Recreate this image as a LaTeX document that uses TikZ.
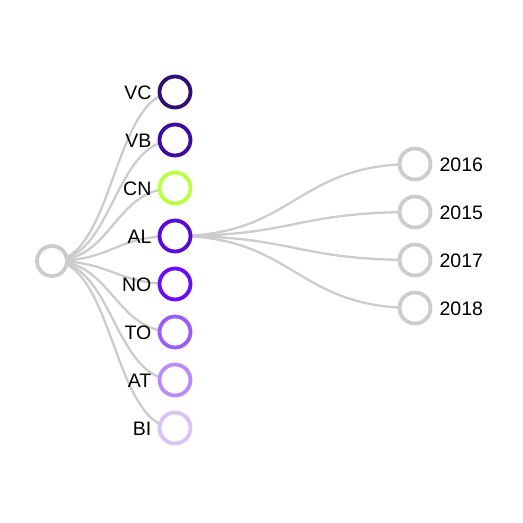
\documentclass[tikz,border=0pt]{standalone}
\usepackage{fontspec}
\setmainfont{Liberation Sans}
\definecolor{linkgray}{HTML}{CCCCCC}
\definecolor{cVC}{HTML}{320E6E}
\definecolor{cVB}{HTML}{3E0A9E}
\definecolor{cCN}{HTML}{BBFF44}
\definecolor{cAL}{HTML}{5A0AD4}
\definecolor{cNO}{HTML}{6A0CF5}
\definecolor{cTO}{HTML}{9B5CF7}
\definecolor{cAT}{HTML}{B98CF8}
\definecolor{cBI}{HTML}{D9C2FA}
\begin{document}
\begin{tikzpicture}[x=1pt,y=-1pt,
  treenode/.style={circle,draw,fill=white,line width=3.8pt,minimum size=31pt,inner sep=0pt},
  treelink/.style={draw=linkgray,line width=2.3pt},
  lbl/.style={font=\fontsize{19.5}{22}\selectfont,inner sep=0pt}]
\useasboundingbox (0,0) rectangle (523,523);
\coordinate (r) at (52,261);
% first level
\foreach \n/\y in {VC/92,VB/140,CN/188,AL/236,NO/284,TO/332,AT/380,BI/428}{
  \coordinate (p\n) at (175,\y);
  \draw[treelink] (r) .. controls (113.5,261) and (113.5,\y) .. (p\n);
}
\foreach \n/\y in {2016/164,2015/212,2017/260,2018/308}{
  \coordinate (q\n) at (415,\y);
  \draw[treelink] (pAL) .. controls (295,236) and (295,\y) .. (q\n);
}
\node[treenode,draw=linkgray,minimum size=30pt] (root) at (r) {};
\foreach \n in {VC,VB,CN,AL,NO,TO,AT,BI}{
  \node[treenode,draw=c\n] (n\n) at (p\n) {};
  \node[lbl,anchor=east] (l\n) at ([xshift=-6pt,yshift=-0.5pt]n\n.west) {\n};
}
\foreach \n in {2016,2015,2017,2018}{
  \node[treenode,draw=linkgray] (y\n) at (q\n) {};
  \node[lbl,anchor=west] (ly\n) at ([xshift=7pt,yshift=-0.5pt]y\n.east) {\n};
}
\end{tikzpicture}
\end{document}
